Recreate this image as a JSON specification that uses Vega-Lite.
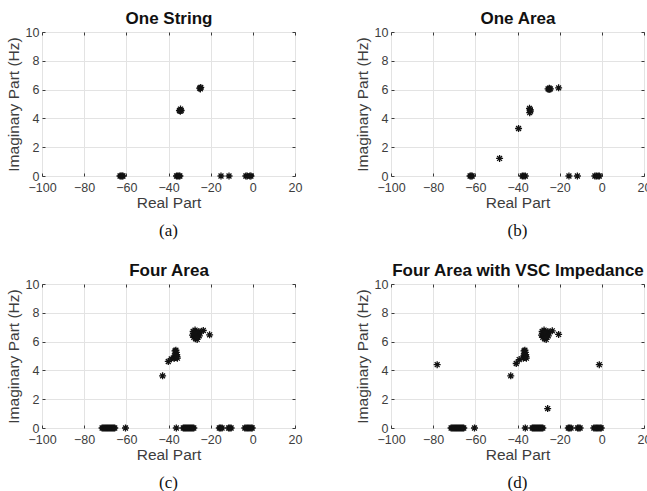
{
  "$schema": "https://vega.github.io/schema/vega-lite/v6.json",
  "background": "white",
  "padding": {"left": 5, "top": 9, "right": 0, "bottom": 0},
  "datasets": {
    "a": [
      {"re": -63.0, "im": 0}, {"re": -62.5, "im": 0}, {"re": -62.0, "im": 0}, {"re": -61.6, "im": 0},
      {"re": -36.2, "im": 0}, {"re": -35.6, "im": 0}, {"re": -35.0, "im": 0}, {"re": -34.6, "im": 0},
      {"re": -15.1, "im": 0}, {"re": -11.3, "im": 0},
      {"re": -3.3, "im": 0}, {"re": -2.7, "im": 0}, {"re": -1.4, "im": 0}, {"re": -0.9, "im": 0},
      {"re": -34.8, "im": 4.55}, {"re": -34.3, "im": 4.65}, {"re": -34.0, "im": 4.55}, {"re": -34.4, "im": 4.5},
      {"re": -25.2, "im": 6.1}, {"re": -24.7, "im": 6.15}, {"re": -24.9, "im": 6.05}
    ],
    "b": [
      {"re": -62.5, "im": 0}, {"re": -62.0, "im": 0}, {"re": -61.5, "im": 0},
      {"re": -37.7, "im": 0}, {"re": -37.0, "im": 0}, {"re": -36.3, "im": 0},
      {"re": -15.6, "im": 0}, {"re": -11.6, "im": 0},
      {"re": -3.3, "im": 0}, {"re": -2.6, "im": 0}, {"re": -1.8, "im": 0}, {"re": -1.2, "im": 0},
      {"re": -48.5, "im": 1.22},
      {"re": -39.5, "im": 3.3},
      {"re": -34.2, "im": 4.4}, {"re": -34.0, "im": 4.6}, {"re": -34.3, "im": 4.7}, {"re": -33.9, "im": 4.5},
      {"re": -25.5, "im": 6.05}, {"re": -24.9, "im": 6.1}, {"re": -24.4, "im": 6.05}, {"re": -25.0, "im": 6.0},
      {"re": -20.5, "im": 6.12}
    ],
    "c": [
      {"re": -71.5, "im": 0}, {"re": -71.0, "im": 0}, {"re": -70.5, "im": 0}, {"re": -70.0, "im": 0},
      {"re": -69.5, "im": 0}, {"re": -69.0, "im": 0}, {"re": -68.5, "im": 0}, {"re": -68.0, "im": 0},
      {"re": -67.5, "im": 0}, {"re": -67.0, "im": 0}, {"re": -66.5, "im": 0}, {"re": -66.0, "im": 0},
      {"re": -65.5, "im": 0},
      {"re": -60.4, "im": 0},
      {"re": -36.3, "im": 0},
      {"re": -33.0, "im": 0}, {"re": -32.5, "im": 0}, {"re": -32.0, "im": 0}, {"re": -31.5, "im": 0},
      {"re": -31.0, "im": 0}, {"re": -30.5, "im": 0}, {"re": -30.0, "im": 0}, {"re": -29.5, "im": 0},
      {"re": -29.0, "im": 0}, {"re": -28.5, "im": 0}, {"re": -28.0, "im": 0},
      {"re": -15.9, "im": 0}, {"re": -15.3, "im": 0}, {"re": -14.6, "im": 0},
      {"re": -11.5, "im": 0}, {"re": -10.9, "im": 0}, {"re": -10.3, "im": 0},
      {"re": -3.8, "im": 0}, {"re": -3.2, "im": 0}, {"re": -2.6, "im": 0}, {"re": -2.0, "im": 0},
      {"re": -1.4, "im": 0}, {"re": -0.8, "im": 0}, {"re": -0.3, "im": 0},
      {"re": -42.8, "im": 3.62},
      {"re": -40.1, "im": 4.62},
      {"re": -38.7, "im": 4.8},
      {"re": -37.2, "im": 4.85}, {"re": -36.6, "im": 4.9}, {"re": -36.0, "im": 4.95}, {"re": -37.0, "im": 5.0},
      {"re": -36.4, "im": 5.05}, {"re": -36.8, "im": 5.15}, {"re": -36.3, "im": 5.25}, {"re": -36.9, "im": 5.35},
      {"re": -36.5, "im": 5.4}, {"re": -36.1, "im": 5.1}, {"re": -35.8, "im": 4.85},
      {"re": -28.6, "im": 6.45}, {"re": -28.3, "im": 6.7}, {"re": -28.0, "im": 6.3}, {"re": -27.7, "im": 6.55},
      {"re": -27.4, "im": 6.8}, {"re": -27.2, "im": 6.2}, {"re": -26.9, "im": 6.45}, {"re": -26.6, "im": 6.65},
      {"re": -26.4, "im": 6.15}, {"re": -26.2, "im": 6.35}, {"re": -25.9, "im": 6.55}, {"re": -25.6, "im": 6.7},
      {"re": -25.4, "im": 6.4}, {"re": -25.1, "im": 6.6}, {"re": -27.0, "im": 6.6}, {"re": -26.5, "im": 6.3},
      {"re": -23.5, "im": 6.77},
      {"re": -20.5, "im": 6.47}
    ],
    "d": [
      {"re": -71.5, "im": 0}, {"re": -71.0, "im": 0}, {"re": -70.5, "im": 0}, {"re": -70.0, "im": 0},
      {"re": -69.5, "im": 0}, {"re": -69.0, "im": 0}, {"re": -68.5, "im": 0}, {"re": -68.0, "im": 0},
      {"re": -67.5, "im": 0}, {"re": -67.0, "im": 0}, {"re": -66.5, "im": 0}, {"re": -66.0, "im": 0},
      {"re": -65.5, "im": 0},
      {"re": -60.4, "im": 0},
      {"re": -36.3, "im": 0},
      {"re": -33.0, "im": 0}, {"re": -32.5, "im": 0}, {"re": -32.0, "im": 0}, {"re": -31.5, "im": 0},
      {"re": -31.0, "im": 0}, {"re": -30.5, "im": 0}, {"re": -30.0, "im": 0}, {"re": -29.5, "im": 0},
      {"re": -29.0, "im": 0}, {"re": -28.5, "im": 0}, {"re": -28.0, "im": 0},
      {"re": -15.9, "im": 0}, {"re": -15.3, "im": 0}, {"re": -14.6, "im": 0},
      {"re": -11.5, "im": 0}, {"re": -10.9, "im": 0}, {"re": -10.3, "im": 0},
      {"re": -3.8, "im": 0}, {"re": -3.2, "im": 0}, {"re": -2.6, "im": 0}, {"re": -2.0, "im": 0},
      {"re": -1.4, "im": 0}, {"re": -0.8, "im": 0}, {"re": -0.3, "im": 0},
      {"re": -78.1, "im": 4.4},
      {"re": -1.2, "im": 4.4},
      {"re": -25.7, "im": 1.35},
      {"re": -43.2, "im": 3.62},
      {"re": -40.6, "im": 4.48},
      {"re": -39.2, "im": 4.75},
      {"re": -37.2, "im": 4.85}, {"re": -36.6, "im": 4.9}, {"re": -36.0, "im": 4.95}, {"re": -37.0, "im": 5.0},
      {"re": -36.4, "im": 5.05}, {"re": -36.8, "im": 5.15}, {"re": -36.3, "im": 5.25}, {"re": -36.9, "im": 5.35},
      {"re": -36.5, "im": 5.4}, {"re": -36.1, "im": 5.1}, {"re": -35.8, "im": 4.85},
      {"re": -28.6, "im": 6.45}, {"re": -28.3, "im": 6.7}, {"re": -28.0, "im": 6.3}, {"re": -27.7, "im": 6.55},
      {"re": -27.4, "im": 6.8}, {"re": -27.2, "im": 6.2}, {"re": -26.9, "im": 6.45}, {"re": -26.6, "im": 6.65},
      {"re": -26.4, "im": 6.15}, {"re": -26.2, "im": 6.35}, {"re": -25.9, "im": 6.55}, {"re": -25.6, "im": 6.7},
      {"re": -25.4, "im": 6.4}, {"re": -25.1, "im": 6.6}, {"re": -27.0, "im": 6.6}, {"re": -26.5, "im": 6.3},
      {"re": -23.5, "im": 6.75},
      {"re": -20.5, "im": 6.5}
    ]
  },
  "config": {
    "view": {"stroke": "#3a3a3a", "strokeWidth": 1},
    "font": "Liberation Sans",
    "axis": {
      "domain": false,
      "tickColor": "#3a3a3a",
      "tickSize": -3,
      "tickWidth": 1,
      "labelFlush": false,
      "labelOverlap": false,
      "labelFont": "Liberation Sans",
      "labelFontSize": 12.5,
      "labelColor": "#3d3d3d",
      "titleFont": "Liberation Sans",
      "titleFontSize": 15.5,
      "titleFontWeight": "normal",
      "titleColor": "#3d3d3d",
      "gridColor": "#e3e3e3",
      "gridWidth": 1
    },
    "title": {
      "font": "Liberation Serif",
      "fontSize": 17,
      "fontWeight": "normal",
      "color": "#111111",
      "orient": "bottom",
      "frame": "group",
      "anchor": "middle",
      "offset": 12
    }
  },
  "spacing": 21,
  "vconcat": [
    {
      "spacing": 51,
      "hconcat": [
        {
          "data": {"name": "a"},
          "title": "(a)",
          "width": 253, "height": 144,
          "layer": [
            {
              "mark": {"type": "point", "shape": "M-1,0L1,0M0,-1L0,1M-0.7,-0.7L0.7,0.7M-0.7,0.7L0.7,-0.7", "size": 49, "filled": false, "strokeWidth": 1.3, "color": "#111111", "opacity": 1},
              "encoding": {
                "x": {"field": "re", "type": "quantitative", "scale": {"domain": [-100, 20], "nice": false, "zero": false},
                      "axis": {"orient": "bottom", "title": "Real Part", "values": [-100, -80, -60, -40, -20, 0, 20], "grid": true, "labelPadding": 8, "titlePadding": 2}},
                "y": {"field": "im", "type": "quantitative", "scale": {"domain": [0, 10], "nice": false},
                      "axis": {"orient": "left", "title": "Imaginary Part (Hz)", "values": [0, 2, 4, 6, 8, 10], "grid": true, "labelPadding": 6, "titlePadding": 4}}
              }
            },
            {
              "mark": {"type": "point", "opacity": 0},
              "encoding": {
                "x": {"field": "re", "type": "quantitative",
                      "axis": {"orient": "top", "title": "One String", "values": [-100, -80, -60, -40, -20, 0, 20], "labels": false, "grid": false, "titleFontWeight": "bold", "titleFontSize": 17, "titleColor": "#111111", "titlePadding": 4}},
                "y": {"field": "im", "type": "quantitative",
                      "axis": {"orient": "right", "title": null, "values": [0, 2, 4, 6, 8, 10], "labels": false, "grid": false}}
              }
            }
          ],
          "resolve": {"axis": {"x": "independent", "y": "independent"}}
        },
        {
          "data": {"name": "b"},
          "title": "(b)",
          "width": 253, "height": 144,
          "layer": [
            {
              "mark": {"type": "point", "shape": "M-1,0L1,0M0,-1L0,1M-0.7,-0.7L0.7,0.7M-0.7,0.7L0.7,-0.7", "size": 49, "filled": false, "strokeWidth": 1.3, "color": "#111111", "opacity": 1},
              "encoding": {
                "x": {"field": "re", "type": "quantitative", "scale": {"domain": [-100, 20], "nice": false, "zero": false},
                      "axis": {"orient": "bottom", "title": "Real Part", "values": [-100, -80, -60, -40, -20, 0, 20], "grid": true, "labelPadding": 8, "titlePadding": 2}},
                "y": {"field": "im", "type": "quantitative", "scale": {"domain": [0, 10], "nice": false},
                      "axis": {"orient": "left", "title": "Imaginary Part (Hz)", "values": [0, 2, 4, 6, 8, 10], "grid": true, "labelPadding": 6, "titlePadding": 4}}
              }
            },
            {
              "mark": {"type": "point", "opacity": 0},
              "encoding": {
                "x": {"field": "re", "type": "quantitative",
                      "axis": {"orient": "top", "title": "One Area", "values": [-100, -80, -60, -40, -20, 0, 20], "labels": false, "grid": false, "titleFontWeight": "bold", "titleFontSize": 17, "titleColor": "#111111", "titlePadding": 4}},
                "y": {"field": "im", "type": "quantitative",
                      "axis": {"orient": "right", "title": null, "values": [0, 2, 4, 6, 8, 10], "labels": false, "grid": false}}
              }
            }
          ],
          "resolve": {"axis": {"x": "independent", "y": "independent"}}
        }
      ]
    },
    {
      "spacing": 51,
      "hconcat": [
        {
          "data": {"name": "c"},
          "title": "(c)",
          "width": 253, "height": 144,
          "layer": [
            {
              "mark": {"type": "point", "shape": "M-1,0L1,0M0,-1L0,1M-0.7,-0.7L0.7,0.7M-0.7,0.7L0.7,-0.7", "size": 49, "filled": false, "strokeWidth": 1.3, "color": "#111111", "opacity": 1},
              "encoding": {
                "x": {"field": "re", "type": "quantitative", "scale": {"domain": [-100, 20], "nice": false, "zero": false},
                      "axis": {"orient": "bottom", "title": "Real Part", "values": [-100, -80, -60, -40, -20, 0, 20], "grid": true, "labelPadding": 8, "titlePadding": 2}},
                "y": {"field": "im", "type": "quantitative", "scale": {"domain": [0, 10], "nice": false},
                      "axis": {"orient": "left", "title": "Imaginary Part (Hz)", "values": [0, 2, 4, 6, 8, 10], "grid": true, "labelPadding": 6, "titlePadding": 4}}
              }
            },
            {
              "mark": {"type": "point", "opacity": 0},
              "encoding": {
                "x": {"field": "re", "type": "quantitative",
                      "axis": {"orient": "top", "title": "Four Area", "values": [-100, -80, -60, -40, -20, 0, 20], "labels": false, "grid": false, "titleFontWeight": "bold", "titleFontSize": 17, "titleColor": "#111111", "titlePadding": 4}},
                "y": {"field": "im", "type": "quantitative",
                      "axis": {"orient": "right", "title": null, "values": [0, 2, 4, 6, 8, 10], "labels": false, "grid": false}}
              }
            }
          ],
          "resolve": {"axis": {"x": "independent", "y": "independent"}}
        },
        {
          "data": {"name": "d"},
          "title": "(d)",
          "width": 253, "height": 144,
          "layer": [
            {
              "mark": {"type": "point", "shape": "M-1,0L1,0M0,-1L0,1M-0.7,-0.7L0.7,0.7M-0.7,0.7L0.7,-0.7", "size": 49, "filled": false, "strokeWidth": 1.3, "color": "#111111", "opacity": 1},
              "encoding": {
                "x": {"field": "re", "type": "quantitative", "scale": {"domain": [-100, 20], "nice": false, "zero": false},
                      "axis": {"orient": "bottom", "title": "Real Part", "values": [-100, -80, -60, -40, -20, 0, 20], "grid": true, "labelPadding": 8, "titlePadding": 2}},
                "y": {"field": "im", "type": "quantitative", "scale": {"domain": [0, 10], "nice": false},
                      "axis": {"orient": "left", "title": "Imaginary Part (Hz)", "values": [0, 2, 4, 6, 8, 10], "grid": true, "labelPadding": 6, "titlePadding": 4}}
              }
            },
            {
              "mark": {"type": "point", "opacity": 0},
              "encoding": {
                "x": {"field": "re", "type": "quantitative",
                      "axis": {"orient": "top", "title": "Four Area with VSC Impedance", "values": [-100, -80, -60, -40, -20, 0, 20], "labels": false, "grid": false, "titleFontWeight": "bold", "titleFontSize": 17, "titleColor": "#111111", "titlePadding": 4}},
                "y": {"field": "im", "type": "quantitative",
                      "axis": {"orient": "right", "title": null, "values": [0, 2, 4, 6, 8, 10], "labels": false, "grid": false}}
              }
            }
          ],
          "resolve": {"axis": {"x": "independent", "y": "independent"}}
        }
      ]
    }
  ]
}
